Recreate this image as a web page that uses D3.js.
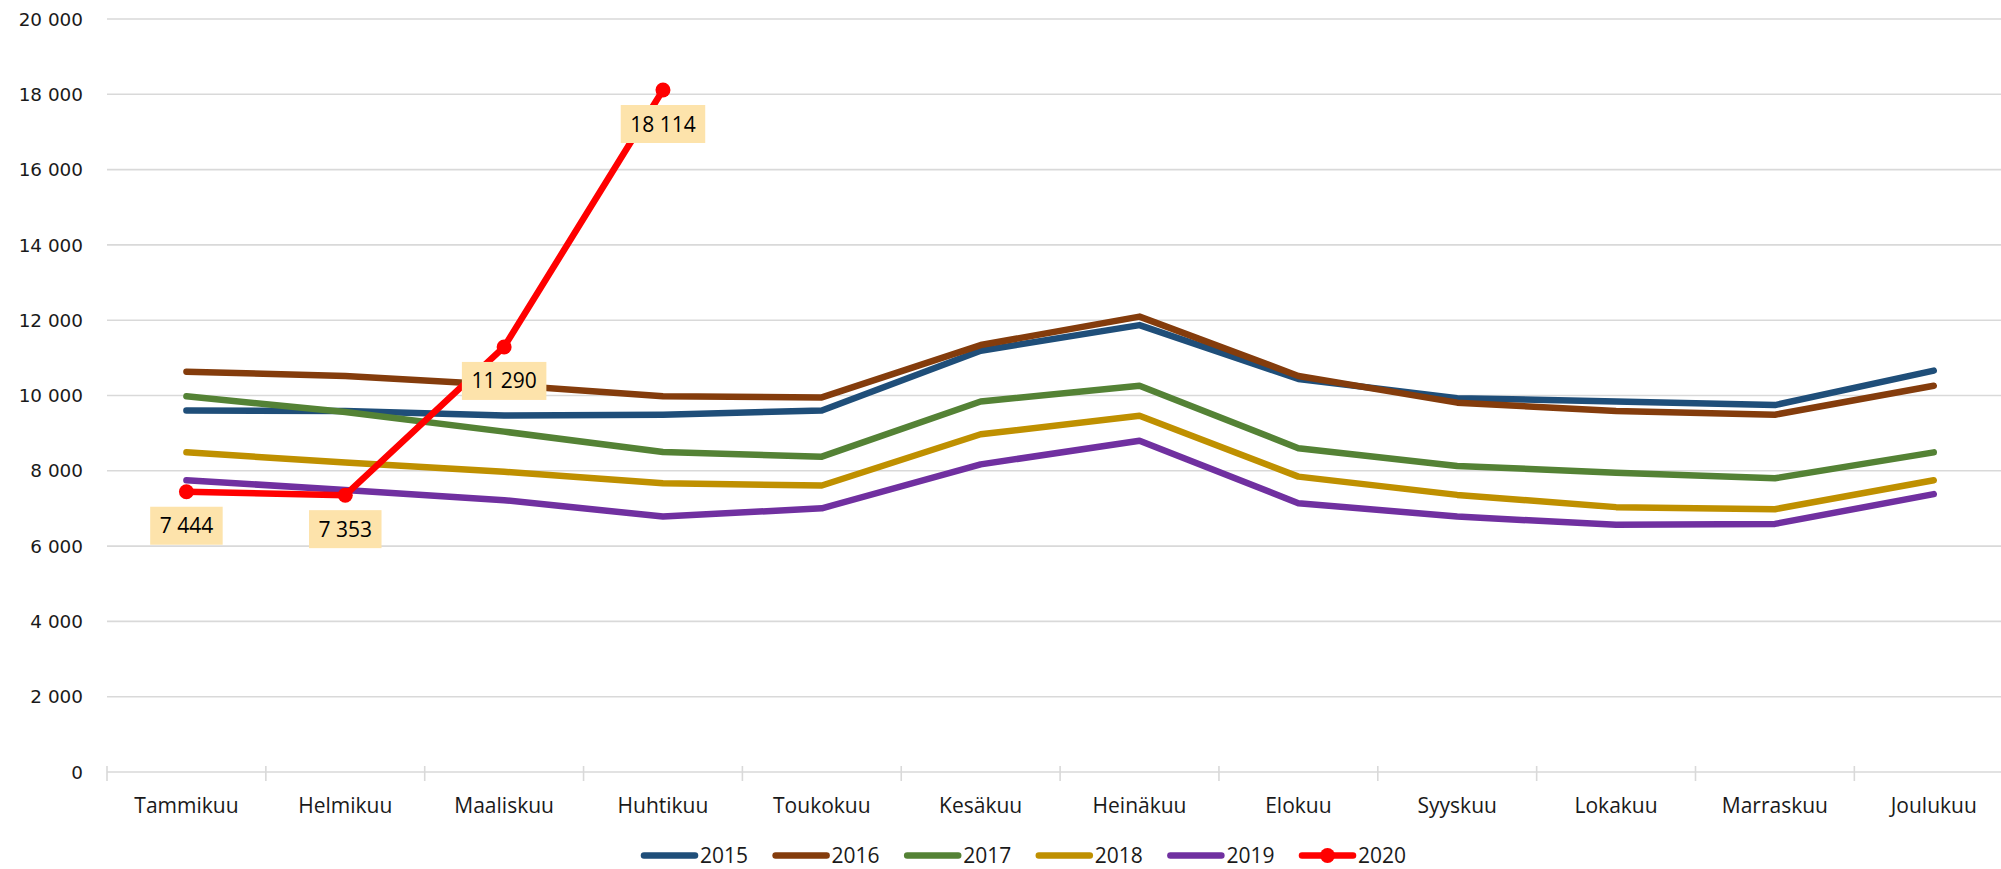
<!DOCTYPE html>
<html>
<head>
<meta charset="utf-8">
<script src="https://cdn.jsdelivr.net/npm/d3@7"></script>
<style>
  html, body { margin: 0; padding: 0; background: #fff; }
  svg { display: block; }
</style>
</head>
<body>
<svg id="chart" width="2001" height="869"></svg>
<script>
const months = ["Tammikuu","Helmikuu","Maaliskuu","Huhtikuu","Toukokuu","Kesäkuu","Heinäkuu","Elokuu","Syyskuu","Lokakuu","Marraskuu","Joulukuu"];
const years = ["2015","2016","2017","2018","2019","2020"];
const s2015 = [9600, 9590, 9470, 9490, 9600, 11190, 11870, 10440, 9930, 9840, 9745, 10660];
const s2016 = [10630, 10520, 10280, 9980, 9950, 11340, 12095, 10520, 9810, 9590, 9490, 10260];
const s2017 = [9980, 9560, 9040, 8500, 8375, 9840, 10260, 8600, 8130, 7950, 7800, 8490];
const s2018 = [8490, 8220, 7975, 7670, 7610, 8970, 9460, 7845, 7360, 7035, 6980, 7750];
const s2019 = [7750, 7490, 7220, 6785, 7005, 8170, 8800, 7140, 6785, 6565, 6590, 7380];
const s2020 = [7444, 7353, 11290, 18114];
const yTicks = [0, 2000, 4000, 6000, 8000, 10000, 12000, 14000, 16000, 18000, 20000];
const colors = ["#1F4E79", "#843C0C", "#548235", "#BF9000", "#7030A0", "#FF0000"];

const seriesList = [s2015, s2016, s2017, s2018, s2019, s2020].map((vals, i) => ({
  name: years[i], color: colors[i], values: vals, markers: i === 5
}));

const fi = d3.formatLocale({decimal: ",", thousands: "\u00a0", grouping: [3], currency: ["", ""]});
const fmt = v => fi.format(",")(v).replace(/\u00a0/g, " ");

const svg = d3.select("#chart");
const W = 2001, H = 869;
const left = 107, bandW = 158.85;
const x = d3.scaleBand().domain(months).range([left, left + bandW * months.length]).padding(0);
const cx = m => x(m) + x.bandwidth() / 2;
const y = d3.scaleLinear().domain([0, 20000]).range([772, 19]);

// gridlines
svg.append("g").selectAll("line").data(yTicks).join("line")
  .attr("x1", left).attr("x2", W)
  .attr("y1", d => y(d)).attr("y2", d => y(d))
  .attr("stroke", "#d9d9d9").attr("stroke-width", 1.6);

// y labels
svg.append("g").selectAll("text").data(yTicks).join("text")
  .attr("x", 83).attr("y", d => y(d) + 6.6)
  .attr("text-anchor", "end")
  .attr("font-family", "DejaVu Sans")
  .attr("font-size", 18.4)
  .attr("fill", "#1a1a1a")
  .text(d => fmt(d));

// x axis ticks at band boundaries
const bounds = months.map(m => x(m)).concat([x(months[months.length - 1]) + x.bandwidth()]);
svg.append("g").selectAll("line").data(bounds).join("line")
  .attr("x1", d => d).attr("x2", d => d)
  .attr("y1", y(0) - 6).attr("y2", y(0) + 9)
  .attr("stroke", "#d9d9d9").attr("stroke-width", 1.6);

// x labels
svg.append("g").selectAll("text").data(months).join("text")
  .attr("x", d => cx(d)).attr("y", 813)
  .attr("text-anchor", "middle")
  .attr("font-family", "Open Sans")
  .attr("font-size", 21)
  .attr("fill", "#1a1a1a")
  .text(d => d);

// lines
const line = d3.line().x((d, i) => cx(months[i])).y(d => y(d));
const g = svg.append("g");
seriesList.forEach(s => {
  g.append("path").datum(s.values)
    .attr("d", line)
    .attr("fill", "none")
    .attr("stroke", s.color)
    .attr("stroke-width", 6.5)
    .attr("stroke-linecap", "round")
    .attr("stroke-linejoin", "round");
  if (s.markers) {
    g.selectAll(null).data(s.values).join("circle")
      .attr("cx", (d, i) => cx(months[i])).attr("cy", d => y(d))
      .attr("r", 7.5).attr("fill", s.color);
  }
});

// data labels for 2020
const lab = svg.append("g");
s2020.forEach((v, i) => {
  const px = cx(months[i]), py = y(v) + 34;
  const grp = lab.append("g");
  const rect = grp.append("rect").attr("fill", "#FDE3AB");
  const t = grp.append("text")
    .attr("x", px).attr("y", py + 7.5)
    .attr("text-anchor", "middle")
    .attr("font-family", "Open Sans")
    .attr("font-size", 21)
    .attr("fill", "#000")
    .text(fmt(v));
  const tw = t.node().getComputedTextLength();
  const bw = tw + 19, bh = 38;
  rect.attr("x", px - bw / 2).attr("y", py - bh / 2).attr("width", bw).attr("height", bh);
});

// legend
const leg = svg.append("g");
seriesList.forEach((s, i) => {
  const x0 = 641 + i * 131.6, ly = 855.5;
  leg.append("line")
    .attr("x1", x0 + 3).attr("x2", x0 + 54)
    .attr("y1", ly).attr("y2", ly)
    .attr("stroke", s.color).attr("stroke-width", 6.5)
    .attr("stroke-linecap", "round");
  if (s.markers) {
    leg.append("circle").attr("cx", x0 + 28.5).attr("cy", ly).attr("r", 7.5).attr("fill", s.color);
  }
  leg.append("text")
    .attr("x", x0 + 59).attr("y", 863)
    .attr("font-family", "Open Sans")
    .attr("font-size", 21)
    .attr("fill", "#1a1a1a")
    .text(s.name);
});
</script>
</body>
</html>
